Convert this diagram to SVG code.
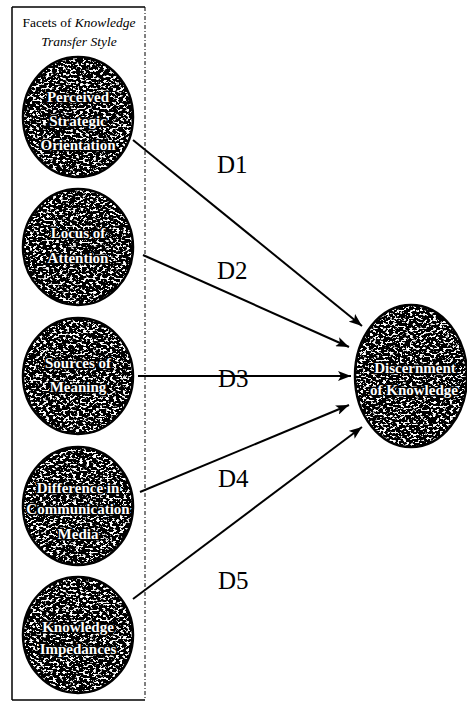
<svg xmlns="http://www.w3.org/2000/svg" width="467" height="702" viewBox="0 0 467 702">
<style>
.bg{fill:#ffffff}
.ball{fill:#000000}
.rim{fill:none;stroke:#000000;stroke-width:2.5}
.lbl{font-family:"Liberation Serif",serif;font-size:15px;font-weight:bold;fill:#ffffff;stroke:#000000;stroke-width:3.2;paint-order:stroke;stroke-linejoin:round;text-anchor:middle}
.dl{font-family:"Liberation Serif",serif;font-size:25px;fill:#000000}
.title{font-family:"Liberation Serif",serif;font-size:13.5px;fill:#000000;text-anchor:middle}
.conn{stroke:#000000;stroke-width:2;fill:none;marker-end:url(#ah)}
</style>
<defs>
<filter id="tex" x="0" y="0" width="1" height="1">
<feTurbulence type="fractalNoise" baseFrequency="0.3 0.5" numOctaves="3" seed="7" result="n"/>
<feColorMatrix in="n" type="matrix" values="0 0 0 0 1  0 0 0 0 1  0 0 0 0 1  14 0 0 0 -7.6" result="spk"/>
<feComposite in="spk" in2="SourceAlpha" operator="in" result="spk2"/>
<feMerge><feMergeNode in="SourceGraphic"/><feMergeNode in="spk2"/></feMerge>
</filter>
<marker id="ah" markerWidth="14" markerHeight="10" refX="13" refY="5" orient="auto" markerUnits="userSpaceOnUse">
<path d="M0,0 L13,5 L0,10 L3,5 z" fill="#000000"/>
</marker>
</defs>
<rect class="bg" x="0" y="0" width="467" height="702"/>

<g id="panel">
<line x1="12" y1="7" x2="145" y2="7" stroke="#000" stroke-width="1.5"/>
<line x1="12" y1="7" x2="12" y2="700" stroke="#000" stroke-width="1.5"/>
<line x1="12" y1="700" x2="145" y2="700" stroke="#000" stroke-width="1.5"/>
<line x1="145" y1="7" x2="145" y2="700" stroke="#000" stroke-width="1" stroke-dasharray="4,2,1,2"/>
<text class="title" x="79" y="27">Facets of <tspan font-style="italic">Knowledge</tspan></text>
<text class="title" x="79" y="46" font-style="italic">Transfer Style</text>
</g>

<g id="n1">
<ellipse class="ball" cx="78" cy="117" rx="55" ry="60" filter="url(#tex)"/>
<ellipse class="rim" cx="78" cy="117" rx="55" ry="60"/>
<text class="lbl" x="78" y="102">Perceived</text>
<text class="lbl" x="78" y="126">Strategic</text>
<text class="lbl" x="78" y="150">Orientation</text>
</g>

<g id="n2">
<ellipse class="ball" cx="78" cy="247" rx="55" ry="58" filter="url(#tex)"/>
<ellipse class="rim" cx="78" cy="247" rx="55" ry="58"/>
<text class="lbl" x="78" y="238">Locus of</text>
<text class="lbl" x="78" y="263">Attention</text>
</g>

<g id="n3">
<ellipse class="ball" cx="78" cy="376" rx="55" ry="58" filter="url(#tex)"/>
<ellipse class="rim" cx="78" cy="376" rx="55" ry="58"/>
<text class="lbl" x="78" y="368">Sources of</text>
<text class="lbl" x="78" y="392">Meaning</text>
</g>

<g id="n4">
<ellipse class="ball" cx="78" cy="506" rx="55" ry="59" filter="url(#tex)"/>
<ellipse class="rim" cx="78" cy="506" rx="55" ry="59"/>
<text class="lbl" x="78" y="493">Difference in</text>
<text class="lbl" x="78" y="514">Communication</text>
<text class="lbl" x="78" y="539">Media</text>
</g>

<g id="n5">
<ellipse class="ball" cx="78" cy="635" rx="55" ry="58" filter="url(#tex)"/>
<ellipse class="rim" cx="78" cy="635" rx="55" ry="58"/>
<text class="lbl" x="78" y="632">Knowledge</text>
<text class="lbl" x="78" y="654">Impedances</text>
</g>

<g id="target">
<ellipse class="ball" cx="411" cy="376" rx="56" ry="71" filter="url(#tex)"/>
<ellipse class="rim" cx="411" cy="376" rx="56" ry="71"/>
<text class="lbl" x="415" y="373" font-size="16">Discernment</text>
<text class="lbl" x="414" y="395" font-size="16">of Knowledge</text>
</g>

<g id="connectors">
<line class="conn" x1="133" y1="140" x2="362" y2="326"/>
<line class="conn" x1="143" y1="255" x2="349" y2="347"/>
<line class="conn" x1="138" y1="376" x2="351" y2="376"/>
<line class="conn" x1="140" y1="492" x2="349" y2="405"/>
<line class="conn" x1="133" y1="599" x2="362" y2="427"/>
<text class="dl" x="217" y="173">D1</text>
<text class="dl" x="217" y="279">D2</text>
<text class="dl" x="218" y="387">D3</text>
<text class="dl" x="218" y="487">D4</text>
<text class="dl" x="218" y="589">D5</text>
</g>
</svg>
